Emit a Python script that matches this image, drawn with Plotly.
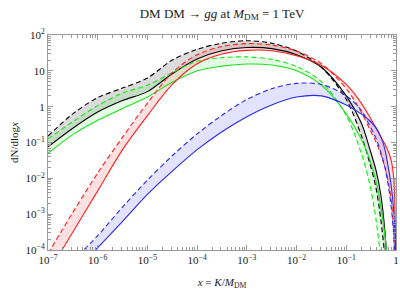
import plotly.graph_objects as go

# ---- data (x = K/M_DM, y = dN/dlogx) ----
x_black_solid = [1e-7, 3.16e-7, 1e-6, 3.16e-6, 1e-5, 3.16e-5, 1e-4, 3.16e-4, 1e-3, 3.16e-3, 0.01, 0.0316, 0.1, 0.2, 0.3, 0.4, 0.5, 0.6, 0.7]
y_black_solid = [0.0759, 0.251, 0.708, 1.48, 2.63, 8.32, 21.4, 36.3, 44.7, 41.7, 28.2, 12.6, 2.0, 0.355, 0.0631, 0.0158, 3.16e-3, 3.16e-4, 1e-5]

x_black_dash = [1e-7, 3.16e-7, 1e-6, 3.16e-6, 1e-5, 3.16e-5, 1e-4, 3.16e-4, 1e-3, 3.16e-3, 0.01, 0.0316, 0.1, 0.2, 0.3, 0.4, 0.5, 0.6]
y_black_dash = [0.151, 0.631, 1.78, 3.31, 6.31, 20.0, 39.8, 58.9, 69.2, 58.9, 35.5, 12.6, 1.58, 0.158, 0.0251, 5.0e-3, 6.3e-4, 6.3e-5]

x_green_solid = [1e-7, 3.16e-7, 1e-6, 3.16e-6, 1e-5, 3.16e-5, 1e-4, 3.16e-4, 1e-3, 3.16e-3, 0.01, 0.0316, 0.1, 0.2, 0.3, 0.4, 0.5, 0.6, 0.7]
y_green_solid = [0.0501, 0.166, 0.417, 0.891, 1.86, 4.79, 10.0, 13.5, 15.5, 14.5, 10.0, 3.98, 0.631, 0.126, 0.0316, 7.94e-3, 1.58e-3, 2.51e-4, 2.51e-5]

x_green_dash = [1e-7, 3.16e-7, 1e-6, 3.16e-6, 1e-5, 3.16e-5, 1e-4, 3.16e-4, 1e-3, 3.16e-3, 0.01, 0.0316, 0.1, 0.2, 0.3, 0.4, 0.5]
y_green_dash = [0.126, 0.380, 1.07, 2.40, 3.98, 8.91, 18.6, 23.4, 24.5, 20.9, 13.2, 5.01, 0.562, 0.0501, 6.31e-3, 6.31e-4, 5.01e-5]

x_red_solid = [1e-7, 3.16e-7, 1e-6, 3.16e-6, 1e-5, 3.16e-5, 1e-4, 3.16e-4, 1e-3, 3.16e-3, 0.01, 0.0316, 0.1, 0.2, 0.3, 0.4, 0.5, 0.6, 0.7, 0.8, 0.9, 0.95, 1.0]
y_red_solid = [2.24e-5, 3.16e-4, 4.47e-3, 0.0631, 0.562, 4.17, 15.8, 29.5, 37.2, 36.3, 26.3, 14.1, 4.17, 1.26, 0.501, 0.251, 0.141, 0.0891, 0.0562, 0.0316, 0.01, 1.58e-3, 3.16e-5]

x_red_dash = [1e-7, 3.16e-7, 1e-6, 3.16e-6, 1e-5, 3.16e-5, 1e-4, 3.16e-4, 1e-3, 3.16e-3, 0.01, 0.0316, 0.1, 0.2, 0.3, 0.4, 0.5, 0.6, 0.7, 0.8, 0.9, 0.95]
y_red_dash = [7.94e-5, 1.12e-3, 0.0141, 0.141, 1.26, 8.91, 28.2, 47.9, 57.5, 52.5, 35.5, 15.8, 3.16, 0.708, 0.224, 0.1, 0.0447, 0.02, 7.94e-3, 2.51e-3, 3.16e-4, 3.16e-5]

x_blue_solid = [3.16e-7, 1e-6, 3.16e-6, 1e-5, 3.16e-5, 1e-4, 3.16e-4, 1e-3, 3.16e-3, 0.01, 0.0316, 0.1, 0.2, 0.3, 0.4, 0.5, 0.6, 0.7, 0.8, 0.9, 0.95, 1.0]
y_blue_solid = [2.51e-5, 1.17e-4, 6.31e-4, 3.55e-3, 0.0158, 0.0631, 0.2, 0.525, 1.12, 1.86, 2.0, 1.12, 0.631, 0.398, 0.251, 0.141, 0.0631, 0.02, 6.31e-3, 1.26e-3, 3.16e-4, 6.31e-5]

x_blue_dash = [3.16e-7, 1e-6, 3.16e-6, 1e-5, 3.16e-5, 1e-4, 3.16e-4, 1e-3, 3.16e-3, 0.01, 0.0316, 0.1, 0.2, 0.3, 0.4, 0.5, 0.6, 0.7, 0.8, 0.9, 0.95]
y_blue_dash = [5.01e-5, 2.51e-4, 1.58e-3, 8.91e-3, 0.0427, 0.174, 0.575, 1.58, 3.16, 4.47, 4.17, 2.0, 0.794, 0.282, 0.126, 0.0501, 0.02, 6.31e-3, 1.58e-3, 2.51e-4, 3.16e-5]

x_tickvals = [1e-7, 1e-6, 1e-5, 1e-4, 1e-3, 1e-2, 1e-1, 1]
x_ticktext = ["10<sup>\u22127</sup>", "10<sup>\u22126</sup>", "10<sup>\u22125</sup>", "10<sup>\u22124</sup>",
              "10<sup>\u22123</sup>", "10<sup>\u22122</sup>", "10<sup>\u22121</sup>", "1"]
y_tickvals = [1e-4, 1e-3, 1e-2, 1e-1, 1, 10, 100]
y_ticktext = ["10<sup>\u22124</sup>", "10<sup>\u22123</sup>", "10<sup>\u22122</sup>", "10<sup>\u22121</sup>",
              "1", "10", "10<sup>2</sup>"]

series = [
    ("black", x_black_solid, y_black_solid, x_black_dash, y_black_dash, "rgb(0,0,0)", "rgba(0,0,0,0.14)"),
    ("green", x_green_solid, y_green_solid, x_green_dash, y_green_dash, "rgb(30,225,30)", "rgba(40,230,40,0.13)"),
    ("red", x_red_solid, y_red_solid, x_red_dash, y_red_dash, "rgb(255,30,30)", "rgba(255,40,40,0.14)"),
    ("blue", x_blue_solid, y_blue_solid, x_blue_dash, y_blue_dash, "rgb(40,40,235)", "rgba(60,60,255,0.14)"),
]

fig = go.Figure()
SM = 0.9
# bands
for name, xs, ys, xd, yd, col, fcol in series:
    fig.add_trace(go.Scatter(x=xd, y=yd, mode="lines", line=dict(width=0, shape="spline", smoothing=SM),
                             hoverinfo="skip", showlegend=False))
    fig.add_trace(go.Scatter(x=xs, y=ys, mode="lines", line=dict(width=0, shape="spline", smoothing=SM),
                             fill="tonexty", fillcolor=fcol, hoverinfo="skip", showlegend=False))
# lines
for name, xs, ys, xd, yd, col, fcol in series:
    fig.add_trace(go.Scatter(x=xs, y=ys, mode="lines", line=dict(color=col, width=1.1, shape="spline", smoothing=SM),
                             showlegend=False))
    fig.add_trace(go.Scatter(x=xd, y=yd, mode="lines",
                             line=dict(color=col, width=1.1, dash="5px,3px", shape="spline", smoothing=SM),
                             showlegend=False))

FONT = "Liberation Serif, Times New Roman, serif"
minor_x = [k * 10.0 ** e for e in range(-7, 0) for k in range(2, 10)]
minor_y = [k * 10.0 ** e for e in range(-4, 2) for k in range(2, 10)]

fig.update_layout(
    width=400, height=290,
    margin=dict(l=48, r=4, t=35, b=40, autoexpand=False),
    paper_bgcolor="white", plot_bgcolor="white",
    font=dict(family=FONT, size=11, color="#222"),
    title=dict(text="DM DM \u2192 <i>gg</i> at <i>M</i><sub>DM</sub> = 1 TeV",
               xref="paper", x=0.5, xanchor="center", y=0.955, yanchor="middle",
               font=dict(family=FONT, size=13, color="#222")),
)
fig.update_xaxes(
    type="log", range=[-7, 0], showgrid=False, zeroline=False, automargin=False,
    showline=True, linecolor="#999", linewidth=1, mirror="ticks",
    ticks="inside", ticklen=5, tickcolor="#999",
    tickmode="array", tickvals=x_tickvals, ticktext=x_ticktext,
    tickfont=dict(family=FONT, size=11, color="#222"),
    minor=dict(ticks="inside", ticklen=3, tickcolor="#999", tickmode="array", tickvals=minor_x, showgrid=False),
    title=dict(text="<i>x</i> = <i>K</i>/<i>M</i><sub>DM</sub>", standoff=13,
               font=dict(family=FONT, size=11, color="#222")),
)
fig.update_yaxes(
    type="log", range=[-4, 2], showgrid=False, zeroline=False, automargin=False,
    showline=True, linecolor="#999", linewidth=1, mirror="ticks",
    ticks="inside", ticklen=5, tickcolor="#999",
    tickmode="array", tickvals=y_tickvals, ticktext=y_ticktext,
    tickfont=dict(family=FONT, size=11, color="#222"),
    minor=dict(ticks="inside", ticklen=3, tickcolor="#999", tickmode="array", tickvals=minor_y, showgrid=False),
    title=dict(text="dN/dlog<i>x</i>", standoff=4,
               font=dict(family=FONT, size=11, color="#222")),
)

fig.write_html("out.html", config={"displayModeBar": False},
               post_script="document.body.style.margin='0';document.body.style.padding='0';"
                           "document.documentElement.style.overflow='hidden';")
